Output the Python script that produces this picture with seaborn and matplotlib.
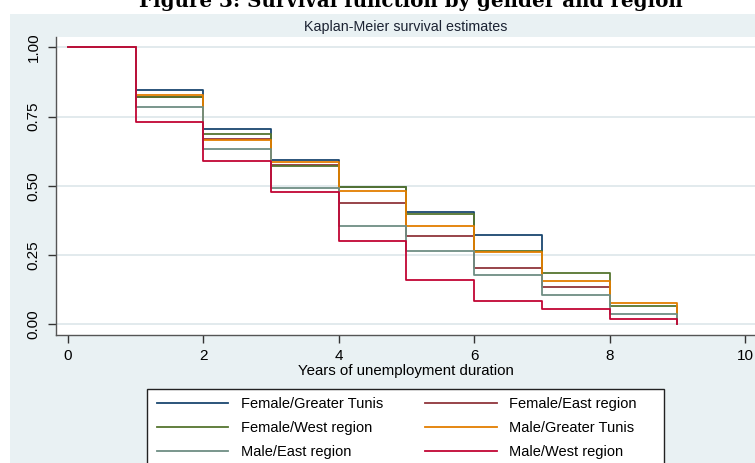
import matplotlib
matplotlib.use("Agg")
import matplotlib.pyplot as plt
from matplotlib.patches import Rectangle
import numpy as np
import pandas as pd
import seaborn as sns

# Kaplan-Meier step estimates by group (time in years)
groups = ["Female/Greater Tunis", "Female/East region", "Female/West region",
          "Male/Greater Tunis", "Male/East region", "Male/West region"]
fem_tunis_t = [0, 1, 2, 3, 4, 5, 6, 7]
fem_tunis_s = [1.0, 0.846, 0.705, 0.593, 0.497, 0.404, 0.324, 0.262]
fem_east_t = [0, 1, 2, 3, 4, 5, 6, 7, 8]
fem_east_s = [1.0, 0.820, 0.668, 0.575, 0.438, 0.319, 0.204, 0.133, 0.133]
fem_west_t = [0, 1, 2, 3, 4, 5, 6, 7, 8, 9]
fem_west_s = [1.0, 0.819, 0.686, 0.570, 0.495, 0.398, 0.266, 0.185, 0.067, 0.0]
male_tunis_t = [0, 1, 2, 3, 4, 5, 6, 7, 8, 9]
male_tunis_s = [1.0, 0.827, 0.666, 0.587, 0.481, 0.355, 0.262, 0.157, 0.076, 0.0]
male_east_t = [0, 1, 2, 3, 4, 5, 6, 7, 8, 9]
male_east_s = [1.0, 0.786, 0.634, 0.491, 0.356, 0.266, 0.179, 0.105, 0.037, 0.0]
male_west_t = [0, 1, 2, 3, 4, 5, 6, 7, 8, 9]
male_west_s = [1.0, 0.729, 0.590, 0.477, 0.300, 0.160, 0.085, 0.054, 0.018, 0.0]

series_t = [fem_tunis_t, fem_east_t, fem_west_t, male_tunis_t, male_east_t, male_west_t]
series_s = [fem_tunis_s, fem_east_s, fem_west_s, male_tunis_s, male_east_s, male_west_s]
colors = ["#1a476f", "#90353b", "#55752f", "#e37e00", "#6e8e84", "#c10534"]

x_ticks = [0, 2, 4, 6, 8, 10]
y_ticks = [0.0, 0.25, 0.5, 0.75, 1.0]
y_tick_labels = ["0.00", "0.25", "0.50", "0.75", "1.00"]

df = pd.concat(
    [pd.DataFrame({"time": t, "survival": s, "group": g})
     for g, t, s in zip(groups, series_t, series_s)],
    ignore_index=True,
)

W, H = 755, 463
BG = "#E9F1F3"
TXT = "#1c2333"
plt.rcParams["font.family"] = ["Liberation Sans", "DejaVu Sans"]

fig = plt.figure(figsize=(W / 100, H / 100), dpi=100)
fig.patch.set_facecolor("white")
# outer graph region
fig.patches.append(Rectangle((10 / W, 0), 1, 1 - 14 / H, transform=fig.transFigure,
                             facecolor=BG, edgecolor="none", zorder=-5))

ax = fig.add_axes([56 / W, 1 - 335 / H, (W - 56) / W, (335 - 37) / H])
ax.set_zorder(2)
ax.set_facecolor("white")

sns.lineplot(data=df, x="time", y="survival", hue="group", hue_order=groups,
             palette=colors, drawstyle="steps-post", estimator=None, sort=False,
             linewidth=1.3, legend=True, ax=ax)

ax.set_xlim(-0.177, 10.148)
ax.set_ylim(-0.0386, 1.0372)
ax.set_xticks(x_ticks)
ax.set_yticks(y_ticks)
ax.set_yticklabels(y_tick_labels, rotation=90, va="center")
ax.tick_params(axis="both", labelsize=11, length=6, width=1, color="#333333",
               labelcolor="black")
ax.tick_params(axis="y", pad=5)
ax.tick_params(axis="x", pad=4)
ax.grid(axis="y", color="#E2EAED", linewidth=1.4)
ax.grid(axis="x", visible=False)
ax.set_axisbelow(True)
for side in ["top", "right"]:
    ax.spines[side].set_visible(False)
for side in ["left", "bottom"]:
    ax.spines[side].set_color("#555555")
    ax.spines[side].set_linewidth(1.0)
ax.set_xlabel("")
ax.set_ylabel("")

fig.text(406 / W, 1 - 371 / H, "Years of unemployment duration", ha="center",
         va="center", fontsize=10.8, color="black")
fig.text(406 / W, 1 - 27 / H, "Kaplan-Meier survival estimates", ha="center",
         va="center", fontsize=10.3, color=TXT)
fig.text(411 / W, 1 - 7 / H, "Figure 3: Survival function by gender and region",
         ha="center", va="baseline", fontsize=14.3, fontweight="bold",
         family=["DejaVu Serif"], color="black")

# legend in two columns, row-major order
handles, labels = ax.get_legend_handles_labels()
ax.get_legend().remove()
order = [0, 2, 4, 1, 3, 5]
fig.patches.append(Rectangle((147 / W, -0.05), (664 - 147) / W, 0.05 + 1 - 389 / H,
                             transform=fig.transFigure, facecolor="white",
                             edgecolor="#222222", linewidth=1.0, zorder=1))
leg = fig.legend([handles[i] for i in order], [labels[i] for i in order],
                 ncol=2, loc="upper left", bbox_to_anchor=(157 / W, 1 - 397 / H),
                 frameon=False, fontsize=10.5, handlelength=4.9, handletextpad=0.85,
                 columnspacing=2.9, labelspacing=0.7, borderpad=0, borderaxespad=0)
leg.set_zorder(5)
for line in leg.get_lines():
    line.set_linewidth(1.3)

fig.savefig("out.png", dpi=100, facecolor=fig.get_facecolor())
